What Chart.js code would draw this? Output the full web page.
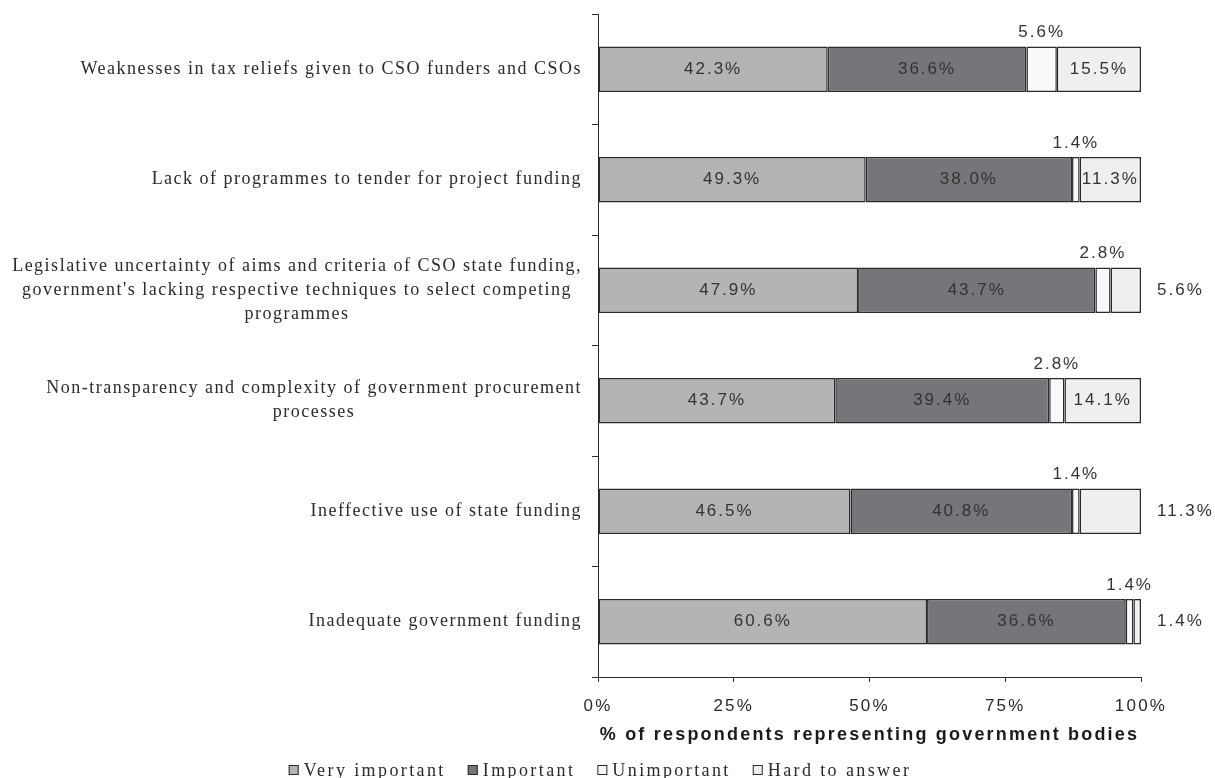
<!DOCTYPE html>
<html>
<head>
<meta charset="utf-8">
<script src="https://cdn.jsdelivr.net/npm/chart.js@4.4.1/dist/chart.umd.min.js"></script>
<style>
  html, body { margin: 0; padding: 0; background: #fff; }
  #wrap { width: 1215px; height: 778px; }
</style>
</head>
<body>
<div id="wrap"><canvas id="chart"></canvas></div>
<script>
// Problems in state funding of CSOs, rated by government bodies
const categories = [
  ['Weaknesses in tax reliefs given to CSO funders and CSOs'],
  ['Lack of programmes to tender for project funding'],
  ['Legislative uncertainty of aims and criteria of CSO state funding,',
   "government's lacking respective techniques to select competing",
   'programmes'],
  ['Non-transparency and complexity of government procurement', 'processes'],
  ['Ineffective use of state funding'],
  ['Inadequate government funding']
];
const veryImportant = [42.3, 49.3, 47.9, 43.7, 46.5, 60.6];
const important     = [36.6, 38.0, 43.7, 39.4, 40.8, 36.6];
const unimportant   = [5.6, 1.4, 2.8, 2.8, 1.4, 1.4];
const hardToAnswer  = [15.5, 11.3, 5.6, 14.1, 11.3, 1.4];
const xTicks = [0, 25, 50, 75, 100];

// which "Hard to answer" labels sit to the right of the bar
const hardOutside = [false, false, true, false, true, true];

const INK = '#2a2a2a';
const SERIF = '"Liberation Serif", "Times New Roman", serif';
const SANS = '"Liberation Sans", Arial, sans-serif';
const TRACKING = '2.2px';

// canvas state is reset on resize, so spacing is applied before layout and draw
const spacing = {
  id: 'spacing',
  beforeLayout(chart) { chart.ctx.letterSpacing = TRACKING; },
  beforeDraw(chart) { chart.ctx.letterSpacing = TRACKING; }
};

// right-aligned category blocks, lines centred inside each block
const categoryLabels = {
  id: 'categoryLabels',
  afterDraw(chart) {
    const y = chart.scales.y;
    const ctx = chart.ctx;
    ctx.save();
    ctx.font = '18px ' + SERIF;
    ctx.letterSpacing = '1.5px';
    ctx.fillStyle = INK;
    ctx.textAlign = 'center';
    ctx.textBaseline = 'middle';
    categories.forEach((lines, i) => {
      const widest = Math.max(...lines.map(l => ctx.measureText(l).width));
      const cx = y.right - 16 - widest / 2;
      const cy = y.getPixelForValue(i);
      lines.forEach((line, k) => {
        ctx.fillText(line, cx, cy + (k - (lines.length - 1) / 2) * 24);
      });
    });
    ctx.restore();
  }
};

// percentage labels on the segments
const segmentLabels = {
  id: 'segmentLabels',
  afterDatasetsDraw(chart) {
    const ctx = chart.ctx;
    ctx.save();
    ctx.font = '17px ' + SANS;
    ctx.letterSpacing = '2px';
    ctx.fillStyle = '#333';
    ctx.textBaseline = 'middle';
    chart.data.datasets.forEach((ds, di) => {
      chart.getDatasetMeta(di).data.forEach((bar, i) => {
        const text = ds.data[i].toFixed(1) + '%';
        const mid = (bar.x + bar.base) / 2;
        if (di === 2) {
          ctx.textAlign = 'center';
          ctx.fillText(text, mid, bar.y - bar.height / 2 - 14);
        } else if (di === 3 && hardOutside[i]) {
          ctx.textAlign = 'left';
          ctx.fillText(text, bar.x + 16, bar.y);
        } else {
          ctx.textAlign = 'center';
          ctx.fillText(text, mid, bar.y);
        }
      });
    });
    ctx.restore();
  }
};

// one-row legend under the axis title: small square, gap, serif label
const bottomLegend = {
  id: 'bottomLegend',
  afterDraw(chart) {
    const ctx = chart.ctx;
    const box = 10, gap = 5, itemGap = 22, centerX = 600, y = 770;
    ctx.save();
    ctx.font = '18px ' + SERIF;
    ctx.letterSpacing = '2.4px';
    ctx.textBaseline = 'middle';
    ctx.textAlign = 'left';
    const items = chart.data.datasets.map(ds => ({
      text: ds.label, fill: ds.backgroundColor, width: ctx.measureText(ds.label).width
    }));
    const total = items.reduce((s, it) => s + box + gap + it.width, 0) + itemGap * (items.length - 1);
    let x = centerX - total / 2;
    items.forEach(it => {
      ctx.fillStyle = it.fill;
      ctx.fillRect(x, y - box / 2, box, box);
      ctx.strokeStyle = INK;
      ctx.lineWidth = 1;
      ctx.strokeRect(x + 0.5, y - box / 2 + 0.5, box - 1, box - 1);
      ctx.fillStyle = INK;
      ctx.fillText(it.text, x + box + gap, y + 1);
      x += box + gap + it.width + itemGap;
    });
    ctx.restore();
  }
};

function series(label, data, color) {
  return {
    label: label,
    data: data,
    backgroundColor: color,
    borderColor: INK,
    borderWidth: 1.5,
    borderSkipped: false,
    barPercentage: 0.41,
    categoryPercentage: 1.0
  };
}

new Chart(document.getElementById('chart'), {
  type: 'bar',
  data: {
    labels: categories.map(c => c.join(' ')),
    datasets: [
      series('Very important', veryImportant, '#b3b4b6'),
      series('Important', important, '#75767a'),
      series('Unimportant', unimportant, '#f9f9f9'),
      series('Hard to answer', hardToAnswer, '#eeeff0')
    ]
  },
  options: {
    indexAxis: 'y',
    responsive: true,
    maintainAspectRatio: false,
    animation: false,
    layout: { padding: { top: 14, right: 74, left: 0, bottom: 0 } },
    scales: {
      x: {
        stacked: true,
        min: 0,
        max: 100,
        afterBuildTicks(scale) { scale.ticks = xTicks.map(v => ({ value: v })); },
        afterFit(scale) { scale.height = 101; },
        ticks: {
          callback: v => v + '%',
          color: INK,
          font: { family: SANS, size: 17 },
          padding: 14,
          maxRotation: 0
        },
        grid: { drawOnChartArea: false, tickLength: 5, color: INK },
        border: { color: INK },
        title: {
          display: true,
          text: '% of respondents representing government bodies',
          color: '#1a1a1a',
          font: { family: SANS, size: 18, weight: 'bold' },
          padding: { top: 0, bottom: 32 }
        }
      },
      y: {
        stacked: true,
        afterFit(scale) { scale.width = 598; },
        ticks: { display: false },
        grid: { drawOnChartArea: false, tickLength: 6, color: INK, offset: true },
        border: { color: INK }
      }
    },
    plugins: {
      legend: { display: false },
      tooltip: { enabled: false }
    }
  },
  plugins: [spacing, categoryLabels, segmentLabels, bottomLegend]
});
</script>
</body>
</html>
